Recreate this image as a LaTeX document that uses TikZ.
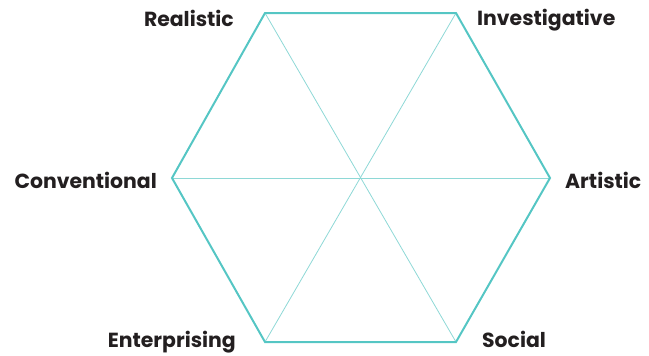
\documentclass[tikz,border=0pt]{standalone}
\usepackage{fontspec}
\setmainfont{Poppins}[BoldFont={* Bold}]
\definecolor{hexteal}{HTML}{55C6C4}
\definecolor{innerteal}{HTML}{8ED8D6}
\definecolor{labeltext}{HTML}{231F20}
\begin{document}
\begin{tikzpicture}[x=1pt,y=-1pt,
  lbl/.style={inner sep=0pt,text=labeltext,font=\fontsize{20.4}{24}\selectfont\bfseries},
  outer/.style={draw=hexteal,line width=2pt,line join=miter},
  inner/.style={draw=innerteal,line width=0.8pt}]
\useasboundingbox (0,0) rectangle (649,356);
\coordinate (TL) at (265,13);
\coordinate (TR) at (456,13);
\coordinate (R) at (550,178);
\coordinate (BR) at (456,342);
\coordinate (BL) at (265,342);
\coordinate (L) at (172,178);
\draw[inner] (TL) -- (BR);
\draw[inner] (TR) -- (BL);
\draw[inner] (L) -- (R);
\draw[outer] (TL) -- (TR) -- (R) -- (BR) -- (BL) -- (L) -- cycle;
\node[lbl,anchor=base east] (real) at (234,27) {Realistic};
\node[lbl,anchor=base west] (inv) at (477,26) {Investigative};
\node[lbl,anchor=base east] (conv) at (157,188) {Conventional};
\node[lbl,anchor=base west] (art) at (565,188) {Artistic};
\node[lbl,anchor=base east] (ent) at (236,347) {Enterprising};
\node[lbl,anchor=base west] (soc) at (482,347) {Social};
\end{tikzpicture}
\end{document}
